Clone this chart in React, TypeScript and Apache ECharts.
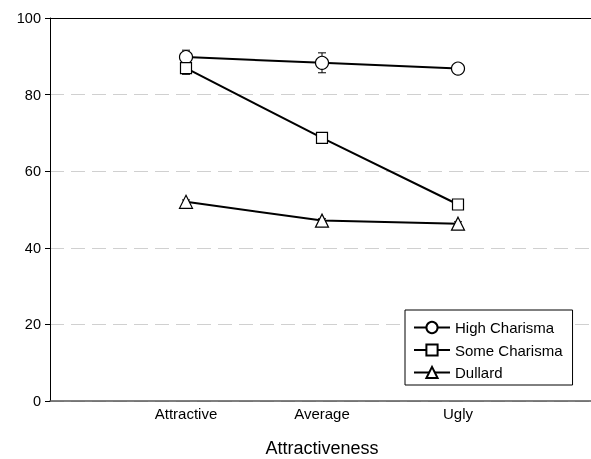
import React, { useEffect, useRef } from "react";
import * as echarts from "echarts";

const categories = ["Attractive", "Average", "Ugly"];
const seriesNames = ["High Charisma", "Some Charisma", "Dullard"];
const highCharisma = [89.8, 88.3, 86.8];
const highErr = [1.8, 2.6, 0.8];
const someCharisma = [86.9, 68.7, 51.3];
const someErr = [1.6, 1.3, 1.3];
const dullard = [52.0, 47.1, 46.3];
const dullErr = [0.5, 0.5, 0.5];
const yTicks = [0, 20, 40, 60, 80, 100];

const FONT = "Liberation Sans, Arial, sans-serif";

export default function App() {
  const ref = useRef<HTMLDivElement>(null);
  useEffect(() => {
    document.body.style.margin = "0";
    document.body.style.overflow = "hidden";
    const el = ref.current;
    if (!el) return;
    const chart = echarts.init(el, undefined, { renderer: "svg" });
    const values = [highCharisma, someCharisma, dullard];
    const errs = [highErr, someErr, dullErr];
    const symbols = ["circle", "rect", "triangle"];
    const sizes = [13, 11, 13];

    const errData: number[][] = [];
    values.forEach((arr, si) =>
      arr.forEach((v, i) => errData.push([i + 1, v, errs[si][i]]))
    );

    const lineSeries = values.map((arr, si) => ({
      name: seriesNames[si],
      type: "line",
      data: arr.map((v, i) => [i + 1, v]),
      symbol: symbols[si],
      symbolSize: sizes[si],
      showAllSymbol: true,
      z: 5,
      lineStyle: { color: "#000", width: 2 },
      itemStyle: { color: "#fff", borderColor: "#000", borderWidth: 1.2 },
      emphasis: { disabled: true },
      ...(si === 0
        ? {
            markLine: {
              silent: true,
              symbol: "none",
              label: { show: false },
              lineStyle: { color: "#000", type: "solid", width: 1 },
              data: [{ yAxis: 100 }],
            },
          }
        : {}),
    }));

    chart.setOption({
      animation: false,
      textStyle: { fontFamily: FONT },
      grid: {
        left: 50,
        right: -3,
        top: 18,
        bottom: 58,
        containLabel: false,
        outerBoundsMode: "none",
      },
      xAxis: {
        type: "value",
        min: 0,
        max: 4,
        interval: 1,
        name: "Attractiveness",
        nameLocation: "middle",
        nameGap: 38,
        nameTextStyle: { fontSize: 18, color: "#000", fontFamily: FONT },
        axisLine: { show: true, lineStyle: { color: "#555", width: 1.5 } },
        axisTick: { show: false },
        splitLine: { show: false },
        axisLabel: {
          color: "#000",
          fontSize: 15,
          margin: 5,
          fontFamily: FONT,
          formatter: (v: number) => categories[v - 1] ?? "",
        },
      },
      yAxis: {
        type: "value",
        min: yTicks[0],
        max: yTicks[yTicks.length - 1],
        interval: 20,
        axisLine: { show: true, lineStyle: { color: "#000", width: 1 } },
        axisTick: { show: true, length: 5, lineStyle: { color: "#000" } },
        axisLabel: { color: "#000", fontSize: 14.5, margin: 9, fontFamily: FONT },
        splitLine: {
          show: true,
          lineStyle: { color: "#d0d0d0", type: [14, 7], width: 1 },
        },
      },
      legend: {
        show: true,
        orient: "vertical",
        left: 405,
        top: 310,
        padding: [10, 10, 5, 8],
        itemWidth: 36,
        itemHeight: 14,
        itemGap: 7.5,
        borderColor: "#000",
        borderWidth: 1,
        backgroundColor: "#fff",
        selectedMode: false,
        data: seriesNames,
        textStyle: { color: "#000", fontSize: 15, fontFamily: FONT },
      },
      series: [
        {
          type: "custom",
          name: "errors",
          z: 3,
          silent: true,
          data: errData,
          renderItem: (params: any, api: any) => {
            const x = api.value(0);
            const y = api.value(1);
            const e = api.value(2);
            const top = api.coord([x, y + e]);
            const bot = api.coord([x, y - e]);
            const hw = 4;
            const style = { stroke: "#000", lineWidth: 1 };
            return {
              type: "group",
              children: [
                { type: "line", shape: { x1: top[0], y1: top[1], x2: bot[0], y2: bot[1] }, style },
                { type: "line", shape: { x1: top[0] - hw, y1: top[1], x2: top[0] + hw, y2: top[1] }, style },
                { type: "line", shape: { x1: bot[0] - hw, y1: bot[1], x2: bot[0] + hw, y2: bot[1] }, style },
              ],
            };
          },
        },
        ...lineSeries,
      ],
    });
    return () => chart.dispose();
  }, []);
  return (
    <div
      ref={ref}
      style={{ position: "fixed", left: 0, top: 0, width: 591, height: 459, overflow: "hidden" }}
    />
  );
}
